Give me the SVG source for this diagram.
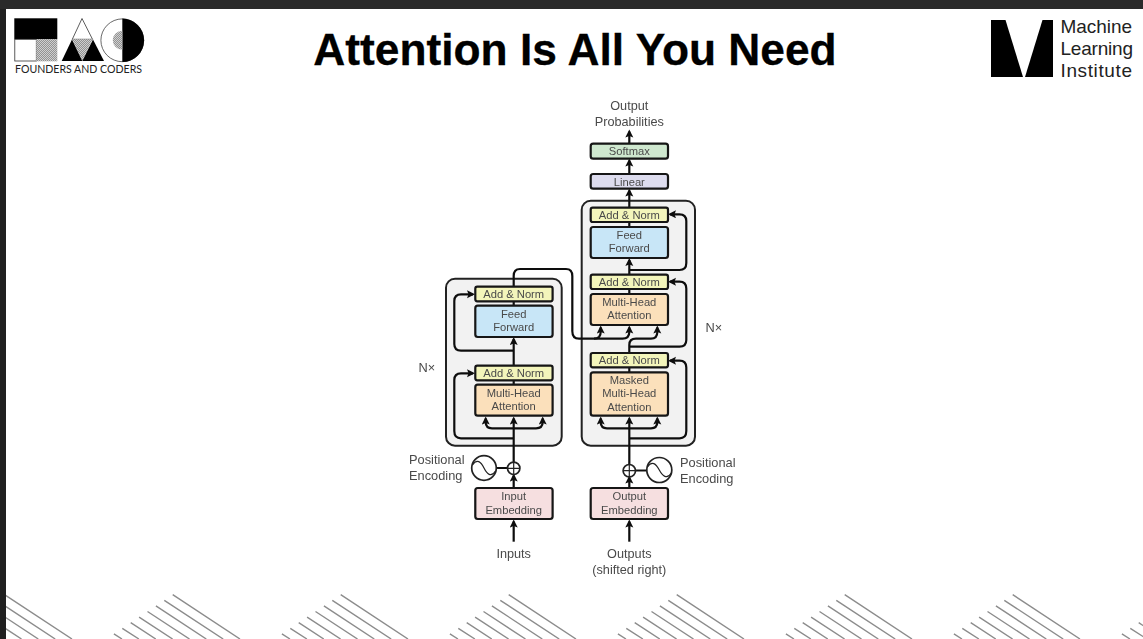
<svg xmlns="http://www.w3.org/2000/svg" xmlns:xlink="http://www.w3.org/1999/xlink" width="1143" height="639" viewBox="0 0 1143 639">
<style>
text{font-family:"Liberation Sans",Arial,sans-serif}
.l{font-size:12.7px;fill:#4a4a4a;text-anchor:middle}
.ls{font-size:12.8px;fill:#4a4a4a}
.b{font-size:11.2px;fill:#4a4a4a;text-anchor:middle}
.box{stroke:#151515;stroke-width:2.2}
.an{fill:#f3f5bb}.ff{fill:#c8e6f7}.mh{fill:#fbe0bb}.em{fill:#f6dfe0}.sm{fill:#cfe8cf}.li{fill:#dddcee}
.blk{fill:#f2f2f2;stroke:#222;stroke-width:2}
.c{fill:none;stroke:#111;stroke-width:2.2}
.a{marker-end:url(#ah)}
.st{stroke:#8c8c8c;stroke-width:1.4;fill:none}
.ci{fill:#fff;stroke:#222;stroke-width:1.7}
.th{fill:none;stroke:#222;stroke-width:1.2}
</style>
<defs>
<marker id="ah" markerUnits="userSpaceOnUse" markerWidth="9" markerHeight="9" refX="6" refY="4" orient="auto"><path d="M8 4L0 0L1.500 4L0 8Z" fill="#111"/></marker>
<pattern id="h" patternUnits="userSpaceOnUse" width="2" height="2"><rect width="2" height="2" fill="#cfcfcf"/><path d="M0 2L2 0" stroke="#777" stroke-width=".7"/></pattern>
<filter id="soft" x="-5%" y="-5%" width="110%" height="110%"><feGaussianBlur stdDeviation="0.35"/></filter>
<g id="stripes">
<path class="st" d="M172.700 594.700L240 639M164.300 600.300L223.200 639M155.900 605.900L206.300 639M147.500 611.500L189.500 639M139.100 617.100L172.600 639M130.700 622.700L155.800 639M122.300 628.300L138.900 639M113.900 633.900L122 639"/>
</g>
<clipPath id="pg"><rect x="6" y="9" width="1137" height="630"/></clipPath>
</defs>
<rect width="1143" height="639" fill="#fff"/>
<g id="background-stripes" clip-path="url(#pg)">
<use xlink:href="#stripes" href="#stripes" x="-168"/>
<use xlink:href="#stripes" href="#stripes"/>
<use xlink:href="#stripes" href="#stripes" x="168"/>
<use xlink:href="#stripes" href="#stripes" x="336"/>
<use xlink:href="#stripes" href="#stripes" x="504"/>
<use xlink:href="#stripes" href="#stripes" x="672"/>
<use xlink:href="#stripes" href="#stripes" x="840"/>
<use xlink:href="#stripes" href="#stripes" x="1008"/>
</g>
<rect id="frame-top" width="1143" height="9" fill="#2a2a2a"/>
<rect id="frame-left" y="9" width="6" height="630" fill="#202020"/>
<g id="logo-fac">
<rect x="14.300" y="18.300" width="43" height="21" fill="#000"/>
<rect x="14.800" y="39.300" width="21.500" height="21.700" fill="#fff" stroke="#333" stroke-width=".8"/>
<rect x="36.300" y="39.300" width="21" height="22" fill="url(#h)"/>
<path d="M82 18.500L72.300 39.300H92.500Z" fill="#fff" stroke="#333" stroke-width=".8"/>
<path d="M72.300 39.300H92.500L82.300 61Z" fill="url(#h)"/>
<path d="M72 39.500L61.700 61H82.300Z" fill="#000"/>
<path d="M93 39.500L82.300 61H104Z" fill="#000"/>
<circle cx="122.300" cy="40.300" r="21.400" fill="#fff" stroke="#444" stroke-width=".8"/>
<path d="M122.300 18.500A21.800 21.800 0 0 1 122.300 62.100Z" fill="#000"/>
<path d="M122.300 30.700A9.500 9.500 0 0 0 122.300 49.700Z" fill="url(#h)"/>
<text x="15" y="73.300" font-size="11" fill="#222" textLength="127" lengthAdjust="spacingAndGlyphs" style="font-family:Lato,'Liberation Sans',sans-serif">FOUNDERS AND CODERS</text>
</g>
<g id="title"><text x="575" y="65" font-size="44.300" font-weight="700" fill="#000" stroke="#000" stroke-width=".3" text-anchor="middle">Attention Is All You Need</text></g>
<g id="logo-mli">
<path d="M991 20H1005.500L1023 77H991Z" fill="#000"/>
<path d="M1042.500 20H1053V77H1025Z" fill="#000"/>
<g font-size="19" fill="#222" style="font-family:'Noto Sans','Liberation Sans',sans-serif">
<text x="1060.500" y="33" textLength="71.500">Machine</text>
<text x="1060.500" y="55" textLength="72.500">Learning</text>
<text x="1060.500" y="76.500" textLength="71.500">Institute</text>
</g>
</g>
<g filter="url(#soft)">
<g id="encoder-block"><rect class="blk" x="446" y="278.700" width="115.700" height="167" rx="9"/></g>
<g id="decoder-block"><rect class="blk" x="581.700" y="200.700" width="113.300" height="245" rx="9"/></g>
<g id="connectors">
<path class="c a" d="M513.700 541.700V521.500"/>
<path class="c a" d="M513.700 488V475.500"/>
<path class="c a" d="M513.700 463V418.500"/>
<path class="c a" d="M513.700 428.300H492C487.500 428.300 485.700 426 485.700 422V418.500"/>
<path class="c a" d="M513.700 428.300H536C541 428.300 542.700 426 542.700 422V418.500"/>
<path class="c a" d="M513.700 438.300H461C456.500 438.300 454.300 436 454.300 431V380C454.300 375.500 456.500 373.300 461 373.300H473"/>
<path class="c" d="M513.700 385V380"/>
<path class="c a" d="M513.700 366V339"/>
<path class="c a" d="M513.700 350.700H461C456.500 350.700 454.300 348.500 454.300 344V301C454.300 296.500 456.500 294.300 461 294.300H473"/>
<path class="c" d="M513.700 306V301"/>
<path class="c a" d="M513.700 287V276C513.700 271 516 269 520 269H566C570.500 269 572.300 271 572.300 276V331C572.300 336.500 574.500 338.700 579 338.700H594C598.500 338.700 600.700 336.500 600.700 332V327.500"/>
<path class="c a" d="M594 338.700H622.500C627 338.700 629.300 336.500 629.300 332V327.500"/>
<path class="c a" d="M629.300 541.700V521.500"/>
<path class="c a" d="M629.300 488V477.500"/>
<path class="c a" d="M629.300 465V418.500"/>
<path class="c a" d="M629.300 428.300H607C602.500 428.300 600.700 426 600.700 422V418.500"/>
<path class="c a" d="M629.300 428.300H651C655.500 428.300 657.300 426 657.300 422V418.500"/>
<path class="c a" d="M629.300 438.300H679.500C684 438.300 686.300 436 686.300 431V367.500C686.300 363 684 360.700 679.500 360.700H670"/>
<path class="c" d="M629.300 372V367"/>
<path class="c a" d="M629.300 353V345C629.300 340.500 631.500 338.700 636 338.700H651C655.500 338.700 657.300 336.500 657.300 332V327.500"/>
<path class="c a" d="M629.300 346.700H679.500C684 346.700 686.300 344.500 686.300 340V288.500C686.300 284 684 281.700 679.500 281.700H670"/>
<path class="c" d="M629.300 294V289"/>
<path class="c a" d="M629.300 275V260"/>
<path class="c a" d="M629.300 270H679.500C684 270 686.300 267.800 686.300 263V221C686.300 216.500 684 214.300 679.500 214.300H670"/>
<path class="c" d="M629.300 227V222"/>
<path class="c a" d="M629.300 208V190.500"/>
<path class="c a" d="M629.300 174V160.500"/>
<path class="c a" d="M629.300 144V131.500"/>
<path class="c" d="M496 468H508M635 470.500H647"/>
</g>
<g id="softmax"><rect class="box sm" x="590.700" y="143.700" width="77.300" height="15" rx="2.500"/><text class="b" x="629.300" y="155">Softmax</text></g>
<g id="linear"><rect class="box li" x="590.700" y="174" width="77.300" height="14.700" rx="2.500"/><text class="b" x="629.300" y="185.500">Linear</text></g>
<g id="dec-addnorm-3"><rect class="box an" x="590.700" y="207.700" width="77.300" height="14.300" rx="2"/><text class="b" x="629.300" y="219">Add &amp; Norm</text></g>
<g id="dec-feedforward"><rect class="box ff" x="590.700" y="227" width="77.300" height="31" rx="2.500"/><text class="b" x="629.300" y="239">Feed</text><text class="b" x="629.300" y="252.300">Forward</text></g>
<g id="dec-addnorm-2"><rect class="box an" x="590.700" y="274.700" width="77.300" height="14.300" rx="2"/><text class="b" x="629.300" y="286">Add &amp; Norm</text></g>
<g id="dec-attention"><rect class="box mh" x="590.700" y="294" width="77.300" height="31" rx="2.500"/><text class="b" x="629.300" y="306">Multi-Head</text><text class="b" x="629.300" y="319.300">Attention</text></g>
<g id="dec-addnorm-1"><rect class="box an" x="590.700" y="353" width="77.300" height="14.300" rx="2"/><text class="b" x="629.300" y="364.300">Add &amp; Norm</text></g>
<g id="dec-masked-attention"><rect class="box mh" x="590.700" y="372.300" width="77.300" height="43.400" rx="2.500"/><text class="b" x="629.300" y="383.700">Masked</text><text class="b" x="629.300" y="397.300">Multi-Head</text><text class="b" x="629.300" y="410.700">Attention</text></g>
<g id="output-embedding"><rect class="box em" x="590.700" y="488" width="77.300" height="31" rx="2.500"/><text class="b" x="629.300" y="500">Output</text><text class="b" x="629.300" y="514">Embedding</text></g>
<g id="enc-addnorm-2"><rect class="box an" x="475.300" y="286.700" width="77.300" height="14.600" rx="2"/><text class="b" x="513.700" y="298.300">Add &amp; Norm</text></g>
<g id="enc-feedforward"><rect class="box ff" x="475.300" y="305.700" width="77.300" height="31.300" rx="2.500"/><text class="b" x="513.700" y="317.700">Feed</text><text class="b" x="513.700" y="331">Forward</text></g>
<g id="enc-addnorm-1"><rect class="box an" x="475.300" y="365.700" width="77.300" height="14.600" rx="2"/><text class="b" x="513.700" y="377.300">Add &amp; Norm</text></g>
<g id="enc-attention"><rect class="box mh" x="475.300" y="384.700" width="77.300" height="31" rx="2.500"/><text class="b" x="513.700" y="396.700">Multi-Head</text><text class="b" x="513.700" y="410">Attention</text></g>
<g id="input-embedding"><rect class="box em" x="475.300" y="488" width="77.300" height="31" rx="2.500"/><text class="b" x="513.700" y="500">Input</text><text class="b" x="513.700" y="514">Embedding</text></g>
<g id="enc-add"><circle class="ci" cx="513.700" cy="468.300" r="6.200"/><path class="th" d="M513.700 462.100V474.500M507.500 468.300H519.900"/></g>
<g id="enc-pe"><circle class="ci" cx="484" cy="468" r="12.300"/><path class="th" d="M472.500 465C477 458 481 462 484 468C487 474 491 478 495.500 471"/></g>
<g id="dec-add"><circle class="ci" cx="629.300" cy="470.700" r="6.200"/><path class="th" d="M629.300 464.500V476.900M623.100 470.700H635.500"/></g>
<g id="dec-pe"><circle class="ci" cx="659.300" cy="470" r="12.500"/><path class="th" d="M647.500 467C652 460 656 464 659.300 470C662.500 476 667 480 671.300 473"/></g>
<g id="labels">
<text class="l" x="629.300" y="110">Output</text>
<text class="l" x="629.300" y="125.700">Probabilities</text>
<text class="ls" x="705.500" y="331.700">N×</text>
<text class="ls" x="418.500" y="372.300">N×</text>
<text class="ls" x="409" y="464">Positional</text>
<text class="ls" x="409" y="480">Encoding</text>
<text class="ls" x="680" y="466.700">Positional</text>
<text class="ls" x="680" y="482.700">Encoding</text>
<text class="l" x="513.700" y="558.300">Inputs</text>
<text class="l" x="629.300" y="558.300">Outputs</text>
<text class="l" x="629.300" y="574">(shifted right)</text>
</g>
</g>
</svg>
